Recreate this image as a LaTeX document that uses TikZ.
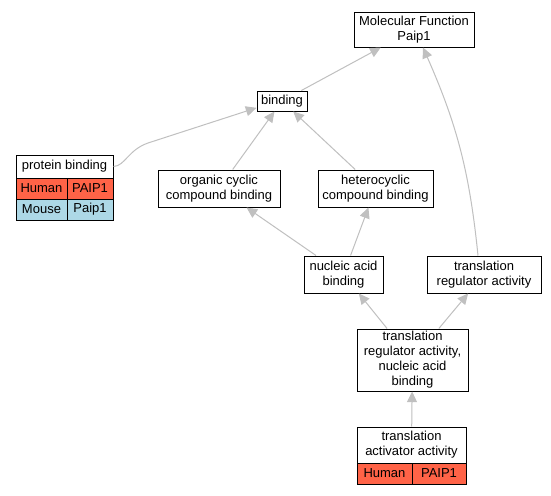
\documentclass[tikz,border=0pt]{standalone}
\usepackage{fontspec}
\setmainfont{Liberation Sans}
\usetikzlibrary{arrows.meta,calc}
\definecolor{edgegray}{HTML}{C0C0C0}
\definecolor{human}{HTML}{FF6347}
\definecolor{mouse}{HTML}{ADD8E6}
\begin{document}
\begin{tikzpicture}[x=0.75pt,y=-0.75pt,
 every node/.style={font=\fontsize{9.75}{11.25}\selectfont, inner sep=0pt, align=center},
 sz/.style 2 args={minimum width=#1*0.75pt, minimum height=#2*0.75pt},
 box/.style={draw=black, line width=0.75pt, fill=white},
 cell/.style={draw=black, line width=0.75pt},
 edge/.style={draw=edgegray, line width=0.75pt, -{Triangle[length=8pt,width=7.5pt]}},
]
\useasboundingbox[fill=white] (0,0) rectangle (551,496);

\node[box, sz={120}{35}] (mf) at (414,29.5) {Molecular Function\\Paip1};
\node[box, sz={50}{20}] (binding) at (282,101) {binding};
\node[box, sz={97}{23}] (pb) at (64.5,166.5) {protein binding};
\node[cell, fill=human, sz={51}{21}] (pbh) at (41.5,188.5) {Human};
\node[cell, fill=human, sz={46}{21}] (pbp) at (90,188.5) {PAIP1};
\node[cell, fill=mouse, sz={51}{21}] (pbm) at (41.5,209.5) {Mouse};
\node[cell, fill=mouse, sz={46}{21}] (pbq) at (90,209.5) {Paip1};
\node[box, sz={122}{37}] (oc) at (219,188.5) {organic cyclic\\compound binding};
\node[box, sz={115}{37}] (hc) at (375.5,188.5) {heterocyclic\\compound binding};
\node[box, sz={79}{37}] (na) at (343.5,274.5) {nucleic acid\\binding};
\node[box, sz={114}{37}] (tr) at (484,274.5) {translation\\regulator activity};
\node[box, sz={111}{62}] (trna) at (412.5,360) {translation\\regulator activity,\\nucleic acid\\binding};
\node[box, sz={109}{36}] (ta) at (411.5,445) {translation\\activator activity};
\node[cell, fill=human, sz={55}{21}] (tah) at (384.5,473.5) {Human};
\node[cell, fill=human, sz={54}{21}] (tap) at (439,473.5) {PAIP1};

\coordinate (pbk) at (148,143);
\draw[edge] (binding) -- (mf);
\draw[edge] ($(tr.north)+(-6,0)$) to[bend right=9] ($(mf.south)+(9,0)$);
\draw[edge] (pb.east) .. controls (125,166) and (128,150) .. (pbk) -- (binding.195);
\draw[edge] (oc) -- (binding);
\draw[edge] (hc) -- (binding);
\draw[edge] (na) -- (oc);
\draw[edge] (na) -- (hc);
\draw[edge] (trna) -- (na);
\draw[edge] (trna) -- (tr);
\draw[edge] (ta) -- (trna);
\end{tikzpicture}
\end{document}
